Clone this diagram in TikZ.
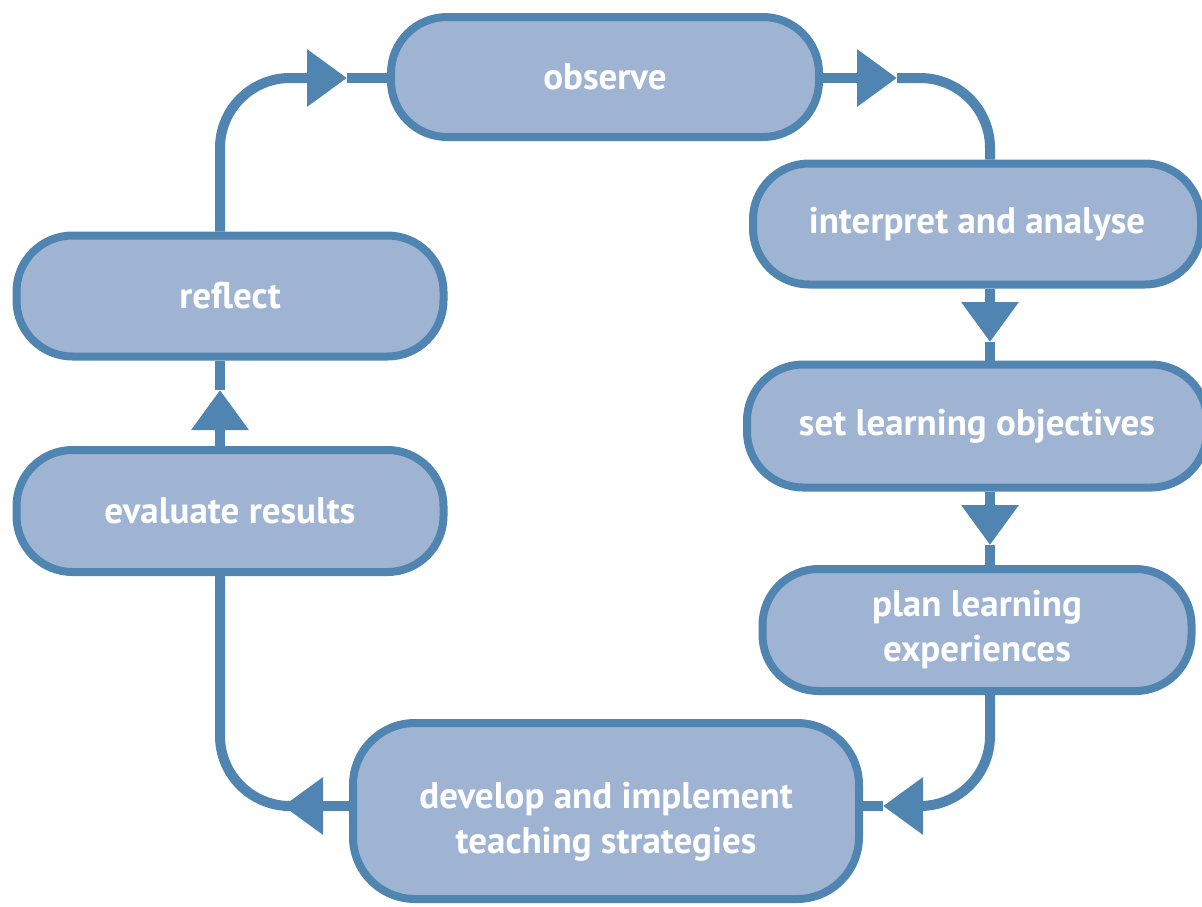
\documentclass[tikz,border=0pt]{standalone}
\usepackage{fontspec}
\setmainfont{PT Sans}
\usetikzlibrary{arrows.meta}
\definecolor{bord}{RGB}{80,133,178}
\definecolor{boxfill}{RGB}{159,180,211}
\begin{document}
\begin{tikzpicture}[x=1pt,y=-1pt,
  box/.style={draw=bord, fill=boxfill, line width=8pt, rounded corners=56pt,
    text=white, font=\fontsize{37}{45}\selectfont\bfseries, align=center, inner sep=0pt},
  conn/.style={draw=bord, line width=10pt, rounded corners=70pt},
  tipped/.style={-{Triangle[length=40pt,width=55pt]}}]
\useasboundingbox (0,0) rectangle (1202,906);

\node[box, minimum width=428pt, minimum height=120pt] (observe) at (605,77) {observe};
\node[box, minimum width=448pt, minimum height=121pt] (interpret) at (977,224) {interpret and analyse};
\node[box, minimum width=460pt, minimum height=123pt] (set) at (977,426) {set learning objectives};
\node[box, minimum width=429pt, minimum height=122pt] (plan) at (977,630) {plan learning\\experiences};
\node[box, minimum width=506pt, minimum height=176pt, rounded corners=62pt,
      text height=90pt, text depth=5pt] (develop) at (606,811) {develop and implement\\teaching strategies};
\node[box, minimum width=427pt, minimum height=122pt] (evaluate) at (230,511) {evaluate results};
\node[box, minimum width=427pt, minimum height=121pt] (reflect) at (230,296) {reflect};

\coordinate (t1) at (347,78);
\coordinate (t2) at (897,78);
\coordinate (t3) at (990,342);
\coordinate (t4) at (990,545);
\coordinate (t5) at (883,806);
\coordinate (t6) at (283,806);
\coordinate (t7) at (220,390);

\draw[conn,tipped] ([xshift=-10pt]reflect.north) |- (t1);
\draw[conn] (t1) -- (observe.west |- t1);

\draw[conn,tipped] (observe.east |- t2) -- (t2);
\draw[conn] (t2) -| ([xshift=13pt]interpret.north);

\draw[conn,tipped] ([xshift=13pt]interpret.south) -- (t3);
\draw[conn] (t3) -- ([xshift=13pt]set.north);

\draw[conn,tipped] ([xshift=13pt]set.south) -- (t4);
\draw[conn] (t4) -- ([xshift=13pt]plan.north);

\draw[conn,tipped] ([xshift=13pt]plan.south) |- (t5);
\draw[conn] (t5) -- ([yshift=5pt]develop.east);

\draw[conn,tipped] ([yshift=5pt]develop.west) -- (t6);
\draw[conn] (t6) -| ([xshift=-10pt]evaluate.south);

\draw[conn,tipped] ([xshift=-10pt]evaluate.north) -- (t7);
\draw[conn] (t7) -- ([xshift=-10pt]reflect.south);
\end{tikzpicture}
\end{document}
